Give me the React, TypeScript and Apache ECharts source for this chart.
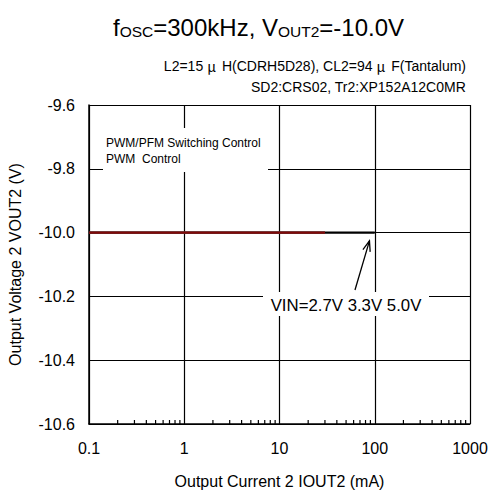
import React, { useEffect, useRef } from "react";
import * as echarts from "echarts";

const FONT = "Liberation Sans, Arial, sans-serif";
const CJK = "Noto Sans CJK JP";

const xTickLabels = ["0.1", "1", "10", "100", "1000"];
const currentsLow = [0.1, 0.2, 0.5, 1, 2, 5, 10, 20, 30];
const vin27 = [-10.0, -10.0, -10.0, -10.0, -10.0, -10.0, -10.0, -10.0, -10.0];
const vin33 = [-10.0, -10.0, -10.0, -10.0, -10.0, -10.0, -10.0, -10.0, -10.0];
const currentsHigh = [0.1, 0.2, 0.5, 1, 2, 5, 10, 20, 30, 50, 70, 100];
const vin50 = [-10.0, -10.0, -10.0, -10.0, -10.0, -10.0, -10.0, -10.0, -10.0, -10.0, -10.0, -10.0];
const minorTickValues = [
  0.2, 0.3, 0.4, 0.5, 0.6, 0.7, 0.8, 0.9,
  2, 3, 4, 5, 6, 7, 8, 9,
  20, 30, 40, 50, 60, 70, 80, 90,
  200, 300, 400, 500, 600, 700, 800, 900,
];
const arrowTail = [62, -10.18];
const arrowTip = [88, -10.026];

export default function App() {
  const ref = useRef<HTMLDivElement>(null);
  useEffect(() => {
    if (!ref.current) return;
    const chart = echarts.init(ref.current, null, { renderer: "svg" });
    const option: any = {
      animation: false,
      backgroundColor: "#fff",
      textStyle: { fontFamily: FONT },
      title: {
        text: "{f|f}{s|OSC}{f|=300kHz, V}{s|OUT2}{f|=-10.0V}",
        left: 108,
        top: 4,
        textStyle: {
          fontWeight: "normal",
          rich: {
            f: { fontSize: 24, fontFamily: FONT, fontWeight: "normal", color: "#000", verticalAlign: "bottom", lineHeight: 30 },
            s: { fontSize: 15.5, fontFamily: FONT, fontWeight: "normal", color: "#000", verticalAlign: "bottom", lineHeight: 24 },
          },
        },
      },
      grid: { left: 89, right: 23, top: 105, bottom: 66, outerBoundsMode: "none", containLabel: false },
      xAxis: {
        type: "log",
        logBase: 10,
        min: 0.1,
        max: 1000,
        name: "Output Current 2 IOUT2 (mA)",
        nameLocation: "middle",
        nameGap: 49,
        nameTextStyle: { fontSize: 16, color: "#000", fontFamily: FONT },
        axisLine: { show: true, lineStyle: { color: "#000", width: 1.5 } },
        axisTick: { show: false },
        axisLabel: {
          fontSize: 16,
          color: "#000",
          margin: 16,
          fontFamily: FONT,
          formatter: (v: number) => {
            const idx = Math.round(Math.log10(v)) + 1;
            return xTickLabels[idx] ?? String(v);
          },
        },
        splitLine: { show: true, lineStyle: { color: "#000", width: 1.2 } },
      },
      yAxis: {
        type: "value",
        min: -10.6,
        max: -9.6,
        interval: 0.2,
        name: "Output Voltage 2 VOUT2 (V)",
        nameLocation: "middle",
        nameGap: 66,
        nameTextStyle: { fontSize: 16, color: "#000", fontFamily: FONT },
        axisLine: { show: true, lineStyle: { color: "#000", width: 1.5 } },
        axisTick: { show: false },
        axisLabel: {
          fontSize: 16,
          color: "#000",
          margin: 14,
          fontFamily: FONT,
          formatter: (v: number) => v.toFixed(1),
        },
        splitLine: { show: true, lineStyle: { color: "#000", width: 1.2 } },
      },
      series: [
        {
          type: "line",
          name: "5.0V",
          data: currentsHigh.map((x, i) => [x, vin50[i]]),
          showSymbol: false,
          lineStyle: { color: "#000", width: 2.2 },
          z: 3,
        },
        {
          type: "line",
          name: "3.3V",
          data: currentsLow.map((x, i) => [x, vin33[i]]),
          showSymbol: false,
          lineStyle: { color: "#555", width: 2.2 },
          z: 4,
        },
        {
          type: "line",
          name: "2.7V",
          data: currentsLow.map((x, i) => [x, vin27[i]]),
          showSymbol: false,
          lineStyle: { color: "#800808", width: 2.2 },
          z: 5,
        },
        {
          type: "custom",
          name: "minorTicks",
          data: minorTickValues.map((v) => [v, -10.6]),
          renderItem: (params: any, api: any) => {
            const p = api.coord([api.value(0), api.value(1)]);
            return {
              type: "line",
              shape: { x1: p[0], y1: p[1], x2: p[0], y2: p[1] - 4 },
              style: { stroke: "#000", lineWidth: 1.2 },
            };
          },
          z: 6,
          silent: true,
        },
        {
          type: "custom",
          name: "arrow",
          data: [[arrowTail[0], arrowTail[1], arrowTip[0], arrowTip[1]]],
          renderItem: (params: any, api: any) => {
            const a = api.coord([api.value(0), api.value(1)]);
            const b = api.coord([api.value(2), api.value(3)]);
            const ang = Math.atan2(b[1] - a[1], b[0] - a[0]);
            const L = 11;
            const spread = 0.35;
            const h1 = [b[0] - L * Math.cos(ang - spread), b[1] - L * Math.sin(ang - spread)];
            const h2 = [b[0] - L * Math.cos(ang + spread), b[1] - L * Math.sin(ang + spread)];
            return {
              type: "group",
              children: [
                { type: "line", shape: { x1: a[0], y1: a[1], x2: b[0], y2: b[1] }, style: { stroke: "#000", lineWidth: 1.3 } },
                { type: "polyline", shape: { points: [h1, b, h2] }, style: { stroke: "#000", lineWidth: 1.3, fill: "none" } },
              ],
            };
          },
          z: 20,
          silent: true,
        },
      ],
      graphic: [
        {
          type: "text",
          right: 27,
          top: 59,
          z: 100,
          style: {
            text: "{a|L2=15}{m|\u03bc}{a|H(CDRH5D28), CL2=94}{m|\u03bc}{a|F(Tantalum)}",
            font: `14px ${FONT}`,
            fill: "#000",
            rich: {
              a: { fontSize: 14, fontFamily: FONT, fill: "#000" },
              m: { fontSize: 14, fontFamily: CJK, fill: "#000", padding: [0, 6, 0, 4] },
            },
          },
        },
        {
          type: "text",
          right: 27,
          top: 80,
          z: 100,
          style: {
            text: "SD2:CRS02, Tr2:XP152A12C0MR",
            font: `14px ${FONT}`,
            fill: "#000",
          },
        },
        {
          type: "rect",
          shape: { x: 103, y: 128, width: 165, height: 44 },
          style: { fill: "#fff" },
          z: 100,
        },
        {
          type: "text",
          x: 106,
          y: 135,
          z: 101,
          style: {
            text: "PWM/PFM Switching Control\nPWM  Control",
            font: `12px ${FONT}`,
            lineHeight: 16,
            fill: "#000",
          },
        },
        {
          type: "rect",
          shape: { x: 263, y: 292, width: 166, height: 24 },
          style: { fill: "#fff" },
          z: 100,
        },
        {
          type: "text",
          x: 346,
          y: 305,
          z: 101,
          style: {
            text: "VIN=2.7V 3.3V 5.0V",
            font: `16.8px ${FONT}`,
            fill: "#000",
            align: "center",
            verticalAlign: "middle",
          },
        },
      ],
    };
    chart.setOption(option);
    return () => chart.dispose();
  }, []);
  return (
    <div
      ref={ref}
      style={{ position: "fixed", left: 0, top: 0, width: 493, height: 490 }}
    />
  );
}
